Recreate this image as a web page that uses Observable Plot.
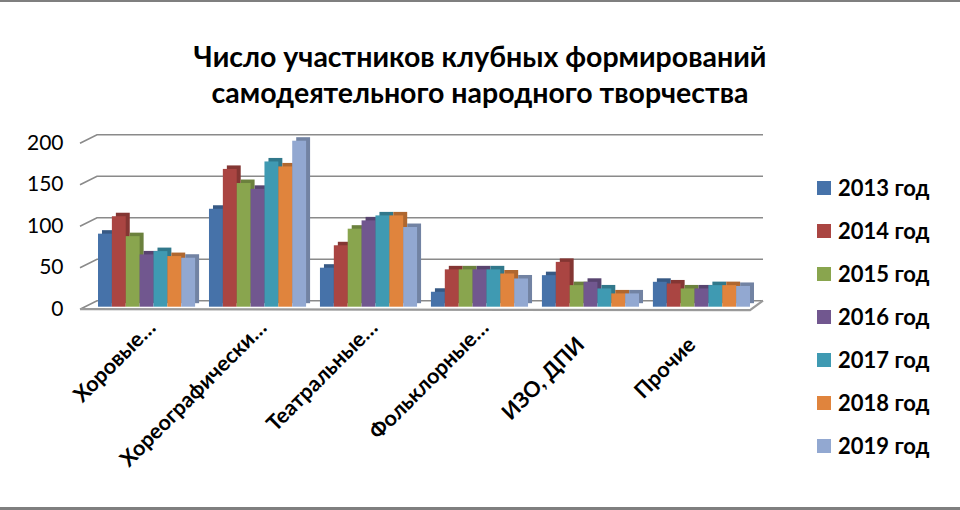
<!DOCTYPE html>
<html><head><meta charset="utf-8">
<script src="https://cdn.jsdelivr.net/npm/d3@7"></script>
<script src="https://cdn.jsdelivr.net/npm/@observablehq/plot@0.6"></script>
<style>
body{margin:0;background:#fff;}
#wrap{position:relative;width:960px;height:510px;overflow:hidden;font-family:Lato,"Open Sans",sans-serif;background:#fff;}
#topline{position:absolute;left:0;top:0;width:960px;height:2px;background:#7f7f7f}
#botline{position:absolute;left:0;top:507px;width:960px;height:3px;background:#7f7f7f}
#title{position:absolute;top:38px;left:0;width:960px;text-align:center;font-weight:bold;font-size:28.5px;line-height:36px;color:#000}
#chart{position:absolute;left:0;top:120px}
#legend{position:absolute;left:817px;top:166px}
.item{display:flex;align-items:center;height:43px;font-weight:bold;font-size:22px;color:#000;white-space:nowrap}
.sw{width:14px;height:14px;margin-right:7px;flex:none}
</style></head>
<body>
<div id="wrap">
  <div id="topline"></div>
  <div id="title">Число участников клубных формирований<br>самодеятельного народного творчества</div>
  <div id="chart"></div>
  <div id="legend"></div>
  <div id="botline"></div>
</div>
<script>
const categories = ["Хоровые…","Хореографически…","Театральные…","Фольклорные…","ИЗО, ДПИ","Прочие"];
const years = ["2013 год","2014 год","2015 год","2016 год","2017 год","2018 год","2019 год"];
const v2013 = [88,118,47,18,38,30];
const v2014 = [109,166,74,45,54,28];
const v2015 = [85,149,94,45,26,22];
const v2016 = [63,142,104,45,30,22];
const v2017 = [67,175,110,45,22,26];
const v2018 = [61,169,110,40,16,26];
const v2019 = [59,200,96,34,16,25];
const yTicks = [0,50,100,150,200];
const colors = ["#4672a9","#aa4542","#89a54e","#71578f","#3f9ab2","#e0843d","#92a8d1"];

const series = [v2013,v2014,v2015,v2016,v2017,v2018,v2019];
const data = [];
categories.forEach((c,i)=>years.forEach((y,j)=>data.push({cat:c, year:y, key:`${i}|${j}`, value:series[j][i]})));
const domain = [];
categories.forEach((c,i)=>{ if(i>0) domain.push(`gap${i}`); years.forEach((y,j)=>domain.push(`${i}|${j}`)); });

function frame(index, scales, values, dims){
  const y = scales.y;
  const g = d3.create("svg:g").attr("fill","none");
  const L = dims.marginLeft, R = dims.width - dims.marginRight;
  const fx0 = L - 18, bx0 = L - 1, bx1 = R + 13, fx1 = R;
  const fdy = 2.5, bdy = -6;
  for (const t of yTicks){
    const fy = y(t)+fdy, by = y(t)+bdy;
    g.append("path").attr("d",`M${fx0},${fy}L${bx0},${by}L${bx1},${by}`)
      .attr("stroke","#8a8a8a").attr("stroke-width",1.6);
  }
  const fy0 = y(0)+fdy, by0 = y(0)+bdy;
  g.append("path").attr("d",`M${fx0},${fy0}L${fx1},${fy0+1}L${bx1},${by0}`)
    .attr("stroke","#9a9a9a").attr("stroke-width",2.2);
  return g.node();
}

const barMarks = years.flatMap((yr,j)=>{
  const sub = data.filter(d=>d.year===yr);
  return [
    Plot.barY(sub,{x:"key", y:"value", fill: d3.color(colors[j]).darker(0.7).formatHex(), dx:4, dy:-3.5}),
    Plot.barY(sub,{x:"key", y:"value", fill:"year"})
  ];
});

const midKey = i => `${i}|3`;
const labelOf = k => categories[+k.split("|")[0]];
const truncated = categories.map((c,i)=>i).filter(i=>categories[i].endsWith("…"));
const whole = categories.map((c,i)=>i).filter(i=>!categories[i].endsWith("…"));
const xAxisOpts = {tickFormat: labelOf, tickRotate: -45, tickSize: 0, tickPadding: 16, fontSize: 21.5, fontWeight: "bold", label: null};

const chart = Plot.plot({
  width: 770, height: 380,
  marginLeft: 98, marginRight: 20, marginTop: 20.7, marginBottom: 193.3,
  style: {fontFamily: "Lato, 'Open Sans', sans-serif", color:"#000", background:"transparent"},
  x: {domain, padding: 0, axis: null},
  y: {domain: [0,200], axis: null},
  color: {domain: years, range: colors},
  marks: [
    frame,
    ...barMarks,
    Plot.axisY({ticks: yTicks, tickSize: 0, tickPadding: 35, fontSize: 21, dy: 2, label: null}),
    Plot.axisX({...xAxisOpts, ticks: truncated.map(midKey), dx: 5, dy: 1}),
    Plot.axisX({...xAxisOpts, ticks: whole.map(midKey), dx: -10, dy: 18})
  ]
});
document.getElementById("chart").appendChild(chart);

const leg = document.getElementById("legend");
years.forEach((y,j)=>{
  const it = document.createElement("div"); it.className="item";
  const sw = document.createElement("span"); sw.className="sw"; sw.style.background=colors[j];
  const tx = document.createElement("span"); tx.textContent=y;
  it.appendChild(sw); it.appendChild(tx); leg.appendChild(it);
});
</script>
</body></html>
